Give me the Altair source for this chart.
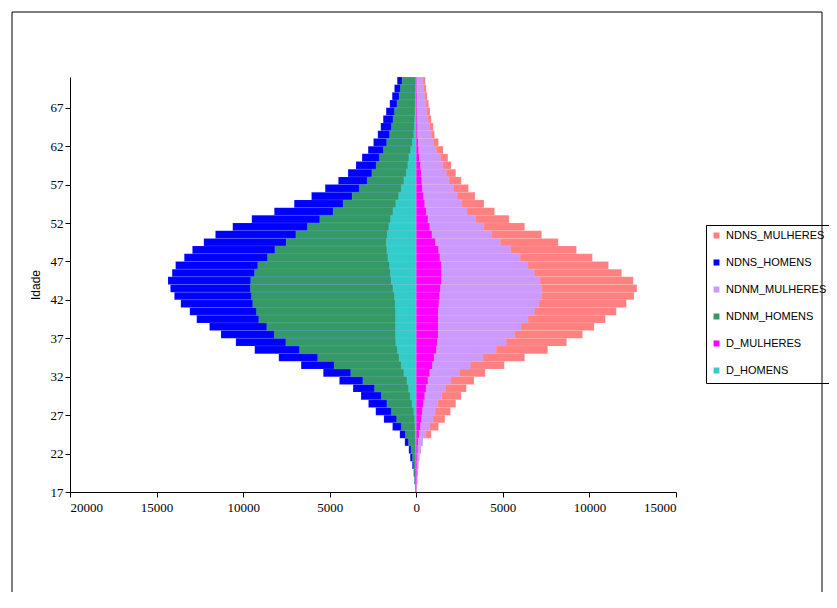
import altair as alt
import pandas as pd

ages = list(range(70, 16, -1))  # top to bottom, 70 .. 17

# cumulative outlines (thousands of people), men on the left
h_total = [1.1, 1.26, 1.39, 1.53, 1.74, 1.91, 2.05, 2.22, 2.47, 2.78, 3.13, 3.48, 3.94, 4.5, 5.26, 6.05,
           7.05, 8.2, 9.5, 10.6, 11.6, 12.27, 12.93, 13.4, 13.9, 14.1, 14.34, 14.2, 13.97, 13.6, 13.08,
           12.68, 11.94, 11.28, 10.42, 9.33, 7.94, 6.65, 5.37, 4.44, 3.65, 3.19, 2.76, 2.34, 1.87, 1.37,
           0.95, 0.66, 0.43, 0.35, 0.23, 0.15, 0.1, 0.05]
h_ndnm = [0.83, 0.93, 1.0, 1.12, 1.27, 1.35, 1.45, 1.55, 1.72, 1.91, 2.14, 2.32, 2.57, 2.84, 3.3, 3.71,
          4.23, 4.81, 5.58, 6.3, 6.96, 7.52, 8.17, 8.6, 9.16, 9.35, 9.57, 9.59, 9.53, 9.45, 9.24, 9.1,
          8.64, 8.21, 7.54, 6.75, 5.7, 4.75, 3.79, 3.09, 2.42, 2.03, 1.7, 1.45, 1.14, 0.87, 0.64, 0.46,
          0.31, 0.23, 0.16, 0.12, 0.1, 0.05]
h_d = [0.03, 0.04, 0.05, 0.06, 0.08, 0.1, 0.12, 0.15, 0.23, 0.33, 0.43, 0.49, 0.58, 0.72, 0.87, 1.02,
       1.19, 1.35, 1.49, 1.59, 1.68, 1.74, 1.7, 1.64, 1.55, 1.5, 1.45, 1.35, 1.26, 1.22, 1.2, 1.2, 1.2,
       1.2, 1.19, 1.1, 1.0, 0.87, 0.72, 0.54, 0.45, 0.35, 0.25, 0.15, 0.1, 0.08, 0.06, 0.05, 0.04, 0.03,
       0.03, 0.02, 0.02, 0.01]
m_total = [0.52, 0.57, 0.63, 0.71, 0.79, 0.86, 0.98, 1.05, 1.28, 1.55, 1.82, 2.01, 2.28, 2.59, 3.01,
           3.39, 3.91, 4.52, 5.36, 6.26, 7.24, 8.2, 9.25, 10.17, 11.1, 11.86, 12.53, 12.74, 12.57, 12.13,
           11.55, 10.92, 10.27, 9.6, 8.68, 7.59, 6.26, 5.08, 3.98, 3.33, 2.89, 2.59, 2.28, 1.97, 1.65,
           1.28, 0.86, 0.36, 0.27, 0.19, 0.13, 0.1, 0.06, 0.02]
m_ndnm = [0.38, 0.42, 0.48, 0.54, 0.59, 0.67, 0.77, 0.86, 0.98, 1.15, 1.4, 1.53, 1.74, 1.9, 2.15, 2.36,
          2.64, 2.93, 3.43, 3.91, 4.37, 4.87, 5.46, 6.0, 6.44, 6.82, 7.15, 7.26, 7.26, 7.07, 6.82, 6.46,
          6.05, 5.69, 5.19, 4.62, 3.85, 3.12, 2.49, 1.99, 1.69, 1.48, 1.25, 1.09, 0.96, 0.77, 0.57, 0.38,
          0.25, 0.17, 0.11, 0.08, 0.06, 0.02]
m_d = [0.03, 0.03, 0.04, 0.04, 0.05, 0.05, 0.06, 0.06, 0.1, 0.13, 0.17, 0.23, 0.27, 0.31, 0.34, 0.4,
       0.48, 0.57, 0.67, 0.77, 0.9, 1.09, 1.28, 1.36, 1.44, 1.44, 1.44, 1.38, 1.34, 1.3, 1.26, 1.26,
       1.26, 1.26, 1.21, 1.15, 1.02, 0.92, 0.77, 0.67, 0.57, 0.48, 0.4, 0.34, 0.29, 0.23, 0.15, 0.1,
       0.08, 0.06, 0.05, 0.04, 0.03, 0.02]

legend_order = ["NDNS_MULHERES", "NDNS_HOMENS", "NDNM_MULHERES", "NDNM_HOMENS", "D_MULHERES", "D_HOMENS"]
colors = ["#FF8080", "#0000FF", "#CC99FF", "#339966", "#FF00FF", "#33CCCC"]

rows = []
z = 0
for name, vals, sign in [("NDNS_HOMENS", h_total, -1), ("NDNM_HOMENS", h_ndnm, -1), ("D_HOMENS", h_d, -1),
                         ("NDNS_MULHERES", m_total, 1), ("NDNM_MULHERES", m_ndnm, 1), ("D_MULHERES", m_d, 1)]:
    for a, v in zip(ages, vals):
        rows.append({"serie": name, "idade": a, "idade2": a + 1, "valor": sign * v * 1000, "z": z})
    z += 1
df = pd.DataFrame(rows)

bars = alt.Chart(df).mark_bar(stroke="white", strokeWidth=0.3, strokeOpacity=0.35).encode(
    x=alt.X("valor:Q", scale=alt.Scale(domain=[-20000, 15000], nice=False),
            axis=alt.Axis(values=[-20000, -15000, -10000, -5000, 0, 5000, 10000, 15000],
                          labelExpr="abs(datum.value)", title=None, grid=False, tickSize=5,
                          labelPadding=4, domainColor="black", tickColor="black")),
    x2=alt.X2(datum=0),
    y=alt.Y("idade:Q", scale=alt.Scale(domain=[17, 71], nice=False),
            axis=alt.Axis(values=list(range(17, 68, 5)), title="Idade", grid=False, tickSize=5,
                          titlePadding=8, domainColor="black", tickColor="black",
                          titleFont="Liberation Sans", titleFontSize=12)),
    y2="idade2:Q",
    color=alt.Color("serie:N", scale=alt.Scale(domain=legend_order, range=colors),
                    legend=alt.Legend(title=None, orient="none", legendX=636, legendY=148,
                                      symbolType="square", symbolSize=55, rowPadding=12,
                                      labelFontSize=11, strokeColor="black", padding=5,
                                      symbolOffset=0, labelOffset=4, labelLimit=200)),
    order=alt.Order("z:Q"),
)

frame = alt.Chart(pd.DataFrame({"k": [0]})).mark_rect(fill=None, stroke="black", strokeWidth=1).encode(
    x=alt.value(-58), x2=alt.value(752), y=alt.value(-65), y2=alt.value(560))

chart = alt.layer(frame, bars).properties(
    width=606, height=415, autosize=alt.AutoSizeParams(type="none"),
    padding={"left": 62, "top": 69, "right": 153, "bottom": 100},
).configure_view(stroke=None).configure_axis(
    labelFont="Liberation Serif", titleFont="Liberation Serif", labelFontSize=13,
    titleFontSize=13, titleFontWeight="normal", labelColor="black", titleColor="black",
).configure_legend(labelFont="Liberation Sans", labelColor="black")

chart.save("out.html", embed_options={"renderer": "svg", "actions": False})
